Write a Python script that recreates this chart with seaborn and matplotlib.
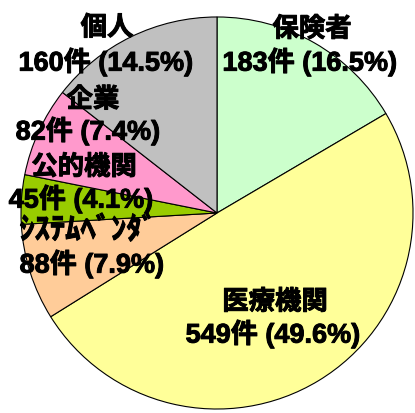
import matplotlib
matplotlib.use('Agg')
import matplotlib.pyplot as plt
import matplotlib.patheffects as pe
import seaborn as sns

# data (clockwise from 12 o'clock)
categories = ['保険者', '医療機関', 'ｼｽﾃﾑﾍﾞﾝﾀﾞ', '公的機関', '企業', '個人']
counts = [183, 549, 88, 45, 82, 160]
percents = [16.5, 49.6, 7.9, 4.1, 7.4, 14.5]
colors = ['#CCFFCC', '#FFFF99', '#FFCC99', '#99CC00', '#FF99CC', '#C0C0C0']

sns.set_theme(style='white')
plt.rcParams['font.family'] = ['Liberation Sans', 'Noto Sans CJK JP', 'DejaVu Sans']

W, H = 415, 413
fig = plt.figure(figsize=(W / 100, H / 100), dpi=100)
cx, cy, r = 217, 213, 197
ax = fig.add_axes([(cx - r) / W, (H - cy - r) / H, 2 * r / W, 2 * r / H])
ax.pie(counts, colors=colors, startangle=90, counterclock=False,
       wedgeprops={'edgecolor': 'black', 'linewidth': 0.8})
ax.set_xlim(-1.005, 1.005)
ax.set_ylim(-1.005, 1.005)
ax.axis('off')

# label line centres in pixels: (x_name, y_name, x_count, y_count), y from top
label_pos = [(312, 29, 310, 62), (275, 302, 273, 334), (88, 231, 92, 264),
             (84, 167, 81, 199), (93, 100, 88, 131), (107, 28, 106, 62)]
bold = [pe.withStroke(linewidth=0.7, foreground='black')]
for name, n, p, (x1, y1, x2, y2) in zip(categories, counts, percents, label_pos):
    # half-width katakana come out small, bump them up a bit
    size = 22 if name == 'ｼｽﾃﾑﾍﾞﾝﾀﾞ' else 19
    fig.text(x1 / W, 1 - y1 / H, name, ha='center', va='center',
             fontsize=size, fontweight='bold', color='black', path_effects=bold)
    fig.text(x2 / W, 1 - y2 / H, f'{n}件 ({p}%)', ha='center', va='center',
             fontsize=19.5, fontweight='bold', color='black', path_effects=bold)

fig.savefig('out.png', dpi=100, facecolor='white')
